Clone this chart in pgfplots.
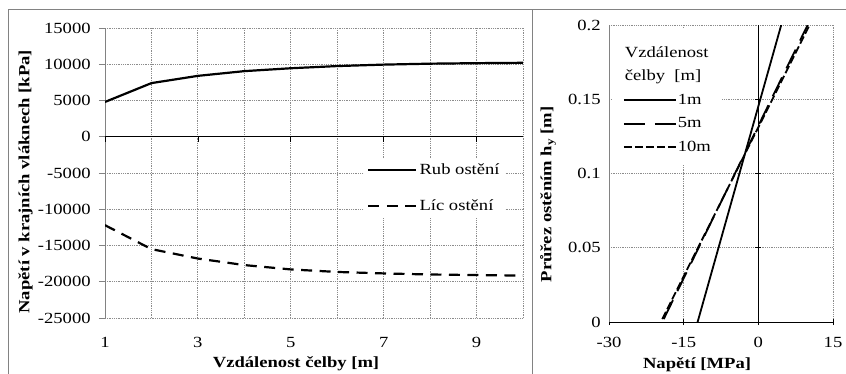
\documentclass[border=0pt]{standalone}
\usepackage{fontspec}
\setmainfont{Liberation Serif}[FakeStretch=1.2]
\usepackage{pgfplots}
\pgfplotsset{compat=1.18}
\definecolor{gridgray}{RGB}{140,140,140}
\definecolor{axgray}{RGB}{130,130,130}
\begin{document}
\fontsize{15.5bp}{18.5bp}\selectfont
\begin{tikzpicture}
\useasboundingbox (0,0) rectangle (846bp,-374bp);
\draw[axgray, line width=0.8bp] (8bp,-374bp) -- (8bp,-9bp) -- (846bp,-9bp);
\draw[axgray, line width=0.8bp] (532bp,-9bp) -- (532bp,-374bp);
% ---------------- left chart
\begin{axis}[
  at={(105bp,-318bp)}, anchor=south west, scale only axis,
  width=418bp, height=290bp,
  xmin=1, xmax=10, ymin=-25000, ymax=15000,
  xtick={1,2,3,4,5,6,7,8,9,10},
  xticklabels={1,,3,,5,,7,,9,},
  ytick={-25000,-20000,-15000,-10000,-5000,0,5000,10000,15000},
  scaled y ticks=false,
  grid=major,
  major grid style={draw=gridgray, line width=0.8bp, densely dotted},
  axis lines*=left,
  x axis line style={draw=none},
  y axis line style={axgray, line width=0.8bp},
  major x tick style={draw=none},
  major y tick style={axgray, line width=0.8bp},
  tick align=outside, major tick length=6bp,
  xticklabel style={yshift=-8bp},
  yticklabel style={xshift=-3bp},
  /pgf/number format/.cd, 1000 sep={}, assume math mode=true, /pgfplots/.cd,
  xlabel={Vzdálenost čelby [m]},
  ylabel={Napětí v krajních vláknech [kPa]},
  every axis x label/.style={at={(axis description cs:0.457,-0.157)}, anchor=center, font=\bfseries},
  every axis y label/.style={at={(axis description cs:-0.19,0.47)}, anchor=center, rotate=90, font=\bfseries},
  legend style={at={(axis description cs:0.62,0.55)}, anchor=north west, draw=none, fill=white,
    row sep=19bp, inner sep=3bp},
  legend cell align=left,
  legend image code/.code={\draw[#1] (0bp,0bp) -- (48bp,0bp);},
]
\addplot[black, line width=2.2bp] coordinates {
(1,4800) (2,7400) (3,8400) (4,9050) (5,9450) (6,9750) (7,9950) (8,10080) (9,10150) (10,10200)};
\addlegendentry{Rub ostění}
\addplot[black, line width=2.2bp, dash pattern=on 11bp off 7.5bp] coordinates {
(1,-12200) (2,-15500) (3,-16800) (4,-17700) (5,-18300) (6,-18650) (7,-18850) (8,-19000) (9,-19080) (10,-19150)};
\addlegendentry{Líc ostění}
\draw[black, line width=0.7bp] (axis cs:1,0) -- (axis cs:10,0);
\pgfplotsinvokeforeach{1,3,5,7,9}{\draw[black, line width=0.7bp] (axis cs:#1,0) -- ++(0bp,-5bp);}
\end{axis}
% ---------------- right chart
\begin{axis}[
  at={(609bp,-322bp)}, anchor=south west, scale only axis,
  width=224bp, height=297bp,
  xmin=-30, xmax=15, ymin=0, ymax=0.2,
  xtick={-30,-15,0,15},
  ytick={0,0.05,0.1,0.15,0.2},
  grid=major,
  major grid style={draw=gridgray, line width=0.8bp, densely dotted},
  axis lines*=left,
  x axis line style={black, line width=0.8bp},
  y axis line style={axgray, line width=0.8bp},
  major x tick style={black, line width=0.7bp}, major y tick style={draw=none},
  tick align=center, major tick length=6bp,
  xticklabel style={yshift=-7bp},
  /pgf/number format/.cd, 1000 sep={}, assume math mode=true, /pgfplots/.cd,
  yticklabel style={/pgf/number format/fixed, /pgf/number format/precision=2},
  xlabel={Napětí [MPa]},
  ylabel={Průřez ostěním h\textsubscript{y} [m]},
  every axis x label/.style={at={(axis description cs:0.393,-0.145)}, anchor=center, font=\bfseries},
  every axis y label/.style={at={(axis description cs:-0.272,0.43)}, anchor=center, rotate=90, font=\bfseries},
  legend style={at={(axis description cs:0.062,0.772)}, anchor=north west, draw=none, fill=white,
    row sep=9bp, inner sep=0bp, nodes={inner xsep=1bp, inner ysep=1bp}},
  legend cell align=left,
  legend image code/.code={\draw[#1] (0bp,0bp) -- (52bp,0bp);},
]
\fill[white] (axis description cs:0.012,0.99) rectangle (axis description cs:0.50,0.53);
\addplot[black, line width=1.8bp] coordinates {(-12.2,0) (4.6,0.2)};
\addlegendentry{1m}
\addplot[black, line width=1.8bp, dash pattern=on 21bp off 10bp] coordinates {(-19.0,0.002) (9.9,0.2)};
\addlegendentry{5m}
\addplot[black, line width=1.8bp, dash pattern=on 8bp off 3bp] coordinates {(-19.3,0.002) (10.3,0.2)};
\addlegendentry{10m}
\draw[black, line width=0.7bp] (axis cs:0,0) -- (axis cs:0,0.2);
\pgfplotsinvokeforeach{0.05,0.1,0.15}{\draw[black, line width=0.7bp] (axis cs:0,#1) ++(-3bp,0bp) -- ++(6bp,0bp);}
\node[anchor=north west, align=left, inner sep=0bp, font=\fontsize{15.5bp}{23bp}\selectfont]
  at (axis description cs:0.07,0.928) {Vzdálenost\\čelby\ \ [m]};
\end{axis}
\end{tikzpicture}
\end{document}
